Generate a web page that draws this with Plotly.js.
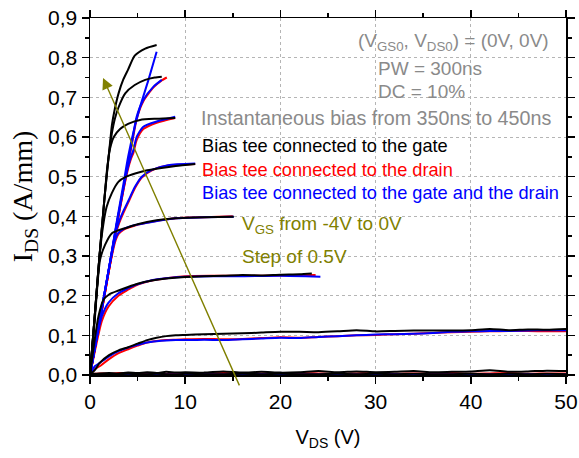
<!DOCTYPE html>
<html>
<head>
<meta charset="utf-8">
<script src="https://cdn.plot.ly/plotly-3.0.1.min.js"></script>
<style>html,body{margin:0;padding:0;background:#fff;}#chart{width:579px;height:458px;}</style>
</head>
<body>
<div id="chart"></div>
<script>
// ---------- DATA ----------
// Shared VDS grid for the long (low-current) sweeps
const vdsLong = [0,0.5,1,2,3,4,5,6,7,8,9,10,12,14,16,18,20,22,24,26,28,30,32,34,36,38,40,42,44,46,48,50];

// Bias tee connected to the gate (black)
const gateV_0    = [0,0.5,1,1.5,2,2.3,2.6,3,3.5,4,4.7,5.8,7];
const gateI_0    = [0,0.15,0.3,0.44,0.56,0.63,0.67,0.71,0.745,0.77,0.805,0.823,0.832];
const gateV_m05  = [0,0.5,1,1.5,2,2.3,2.6,3,3.7,4.7,5.8,6.8,7.54];
const gateI_m05  = [0,0.15,0.3,0.44,0.56,0.61,0.645,0.675,0.71,0.731,0.744,0.75,0.752];
const gateV_m10  = [0,0.5,1,1.5,1.8,2.1,2.5,3.16,4,5.26,7,8.95];
const gateI_m10  = [0,0.15,0.3,0.44,0.52,0.57,0.6,0.62,0.633,0.643,0.646,0.648];
const gateV_m15  = [0,0.5,1,1.4,1.75,2.28,2.98,3.8,4.74,6,7.5,9,11.05];
const gateI_m15  = [0,0.15,0.3,0.38,0.424,0.458,0.487,0.5,0.508,0.516,0.522,0.527,0.532];
const gateV_m20  = [0,0.5,1.05,1.58,2.28,3,3.68,5,7,9,12,15.1];
const gateI_m20  = [0,0.14,0.29,0.328,0.357,0.365,0.37,0.38,0.39,0.395,0.398,0.399];
const gateV_m25  = [0,0.5,0.88,1.4,2,3,4,5,6.5,8,10,12,14,16,18,20,22,23.3];
const gateI_m25  = [0,0.09,0.147,0.189,0.203,0.213,0.222,0.23,0.238,0.243,0.247,0.249,0.25,0.252,0.251,0.253,0.254,0.256];
const gateI_m30  = [0,0.012,0.03,0.05,0.062,0.07,0.079,0.088,0.094,0.098,0.1,0.101,0.103,0.104,0.105,0.107,0.109,0.109,0.108,0.11,0.113,0.11,0.111,0.112,0.112,0.112,0.113,0.116,0.113,0.115,0.114,0.116];
const gateI_m35  = [0,0.003,0.004,0.005,0.004,0.006,0.005,0.007,0.005,0.008,0.006,0.007,0.006,0.009,0.006,0.008,0.006,0.007,0.01,0.007,0.009,0.007,0.008,0.01,0.007,0.008,0.009,0.012,0.008,0.009,0.011,0.01];
const gateI_m40  = [0,0.001,0.002,0.001,0.002,0.003,0.002,0.002,0.003,0.002,0.001,0.003,0.002,0.002,0.003,0.002,0.003,0.002,0.002,0.003,0.002,0.003,0.002,0.003,0.002,0.002,0.003,0.002,0.003,0.002,0.003,0.002];

// Bias tee connected to the drain (red)
const drainV_m05 = [0,1,2,2.8,3.5,4,4.5,4.9,5.6,6.67,7.5,8.07];
const drainI_m05 = [0,0.13,0.265,0.375,0.465,0.53,0.595,0.645,0.69,0.725,0.742,0.75];
const drainV_m10 = [0,1,2,2.8,3.5,4,4.3,4.56,4.9,5.6,7,8.95];
const drainI_m10 = [0,0.13,0.265,0.375,0.465,0.52,0.545,0.56,0.592,0.62,0.636,0.648];
const drainV_m15 = [0,1,2,2.7,3.1,3.5,4.04,4.74,5.44,6.5,8.2,11.05];
const drainI_m15 = [0,0.13,0.265,0.355,0.385,0.408,0.436,0.472,0.498,0.516,0.528,0.532];
const drainV_m20 = [0,1,2,2.63,2.98,3.5,4.74,6.5,9,12,15];
const drainI_m20 = [0,0.13,0.265,0.335,0.355,0.366,0.377,0.386,0.395,0.398,0.4];
const drainV_m25 = [0,0.6,1.23,1.93,2.98,4,4.74,6.5,8,10,13,16,20,23.7];
const drainI_m25 = [0,0.07,0.135,0.172,0.2,0.215,0.225,0.238,0.244,0.249,0.25,0.25,0.251,0.252];
const drainI_m30 = [0,0.015,0.022,0.04,0.055,0.065,0.074,0.082,0.086,0.088,0.089,0.09,0.091,0.09,0.091,0.093,0.095,0.094,0.096,0.098,0.1,0.101,0.103,0.104,0.106,0.108,0.109,0.11,0.111,0.111,0.11,0.11];
const drainI_m35 = [0,0.003,0.004,0.003,0.005,0.004,0.003,0.005,0.004,0.003,0.005,0.004,0.003,0.005,0.004,0.004,0.003,0.005,0.004,0.003,0.004,0.005,0.003,0.004,0.004,0.005,0.003,0.004,0.005,0.003,0.004,0.004];
const drainI_m40 = [0,0.001,0.001,0.001,0.002,0.001,0.001,0.002,0.001,0.001,0.001,0.002,0.001,0.001,0.002,0.001,0.001,0.001,0.002,0.001,0.001,0.002,0.001,0.001,0.001,0.002,0.001,0.001,0.002,0.001,0.001,0.001];

// Bias tee connected to the gate and the drain (blue)
const bothV_0    = [0,1,2,2.8,3.5,4,4.74,5.26,6.14,7];
const bothI_0    = [0,0.135,0.27,0.385,0.48,0.55,0.63,0.676,0.744,0.815];
const bothV_m05  = [0,1,2,2.8,3.5,4,4.5,4.9,5.6,6.67,7.54];
const bothI_m05  = [0,0.135,0.27,0.38,0.47,0.535,0.6,0.651,0.693,0.727,0.744];
const bothV_m10  = [0,1,2,2.8,3.5,4,4.3,4.56,4.9,5.6,7,8.95];
const bothI_m10  = [0,0.135,0.27,0.38,0.47,0.525,0.55,0.567,0.6,0.626,0.639,0.651];
const bothV_m15  = [0,1,2,2.7,3.1,3.5,4.04,4.74,5.44,6.5,8.2,11.05];
const bothI_m15  = [0,0.135,0.27,0.36,0.39,0.413,0.44,0.475,0.5,0.517,0.529,0.533];
const bothV_m20  = [0,1,2,2.63,2.98,3.5,4.74,6.5,9,12,15.1];
const bothI_m20  = [0,0.135,0.27,0.34,0.358,0.368,0.378,0.386,0.395,0.398,0.399];
const bothV_m25  = [0,0.6,1.23,1.93,2.98,4,4.74,6.5,8,10,13,16,20,24.2];
const bothI_m25  = [0,0.08,0.147,0.182,0.206,0.219,0.227,0.239,0.244,0.248,0.249,0.249,0.25,0.248];
const bothI_m30  = [0,0.022,0.03,0.047,0.06,0.069,0.076,0.082,0.085,0.087,0.088,0.088,0.089,0.088,0.09,0.092,0.094,0.093,0.096,0.098,0.1,0.102,0.103,0.104,0.106,0.109,0.11,0.111,0.111,0.112,0.113,0.113];
const bothI_m35  = [0,0.001,0.002,0.001,0.001,0.002,0.001,0.001,0.002,0.001,0.001,0.001,0.002,0.001,0.001,0.002,0.001,0.001,0.001,0.002,0.001,0.001,0.002,0.001,0.001,0.001,0.002,0.001,0.001,0.002,0.001,0.001];
const bothI_m40  = [0,0,0,0,0,0,0,0,0,0,0,0,0,0,0,0,0,0,0,0,0,0,0,0,0,0,0,0,0,0,0,0];

// Arrow (VGS increasing direction), in data units
const arrowHead = [1.37, 0.749];
const arrowTail = [15.76, -0.030];

// ---------- TRACES ----------
const RED = '#ff0000', BLUE = '#0000ff', BLACK = '#000000';
function tr(x, y, color) {
  return {x: x, y: y, type: 'scatter', mode: 'lines', showlegend: false,
          hoverinfo: 'skip', line: {color: color, width: 2, shape: 'spline', smoothing: 0.6}};
}
const traces = [
  // drain (red)
  tr(vdsLong, drainI_m40, RED), tr(vdsLong, drainI_m35, RED), tr(vdsLong, drainI_m30, RED),
  tr(drainV_m25, drainI_m25, RED), tr(drainV_m20, drainI_m20, RED), tr(drainV_m15, drainI_m15, RED),
  tr(drainV_m10, drainI_m10, RED), tr(drainV_m05, drainI_m05, RED),
  // gate and drain (blue)
  tr(vdsLong, bothI_m40, BLUE), tr(vdsLong, bothI_m35, BLUE), tr(vdsLong, bothI_m30, BLUE),
  tr(bothV_m25, bothI_m25, BLUE), tr(bothV_m20, bothI_m20, BLUE), tr(bothV_m15, bothI_m15, BLUE),
  tr(bothV_m10, bothI_m10, BLUE), tr(bothV_m05, bothI_m05, BLUE), tr(bothV_0, bothI_0, BLUE),
  // gate (black)
  tr(vdsLong, gateI_m40, BLACK), tr(vdsLong, gateI_m35, BLACK), tr(vdsLong, gateI_m30, BLACK),
  tr(gateV_m25, gateI_m25, BLACK), tr(gateV_m20, gateI_m20, BLACK), tr(gateV_m15, gateI_m15, BLACK),
  tr(gateV_m10, gateI_m10, BLACK), tr(gateV_m05, gateI_m05, BLACK), tr(gateV_0, gateI_0, BLACK)
];

// ---------- LAYOUT ----------
const GRAY = '#8a8a8a', OLIVE = '#808000';
const txtFont = (c, s) => ({family: 'Liberation Sans, Arial, sans-serif', size: s, color: c});
function note(text, x, y, color, size, xanchor) {
  return {text: text, xref: 'paper', yref: 'paper', x: x, y: y, xanchor: xanchor || 'left',
          yanchor: 'middle', showarrow: false, font: txtFont(color, size)};
}
const axisCommon = {
  showline: true, linecolor: '#000', linewidth: 1.5, mirror: 'allticks',
  ticks: 'outside', ticklen: 7, tickwidth: 1.5, tickcolor: '#000',
  showgrid: true, gridcolor: '#b5b5b5', griddash: 'dot', gridwidth: 1,
  zeroline: false, automargin: false,
  tickfont: {family: 'Liberation Sans, Arial, sans-serif', size: 21, color: '#000'}
};
const layout = {
  width: 579, height: 458,
  margin: {l: 90, r: 13, t: 18, b: 83},
  paper_bgcolor: '#fff', plot_bgcolor: '#fff',
  separators: ',.',
  showlegend: false,
  xaxis: Object.assign({}, axisCommon, {
    range: [0, 50], dtick: 10, tick0: 0,
    minor: {dtick: 5, ticklen: 4, tickwidth: 1.5, tickcolor: '#000', ticks: 'outside', showgrid: false},
    title: {text: 'V<sub>DS</sub> (V)', standoff: 18,
            font: {family: 'Liberation Sans, Arial, sans-serif', size: 20, color: '#000'}}
  }),
  yaxis: Object.assign({}, axisCommon, {
    range: [0, 0.9], dtick: 0.1, tick0: 0, tickformat: '.1f',
    minor: {dtick: 0.05, ticklen: 4, tickwidth: 1.5, tickcolor: '#000', ticks: 'outside', showgrid: false},
    title: {text: 'I<sub>DS</sub> (A/mm)', standoff: 7,
            font: {family: 'Liberation Serif, Times New Roman, serif', size: 28, color: '#000'}}
  }),
  annotations: [
    note('(V<sub>GS0</sub>, V<sub>DS0</sub>) = (0V, 0V)', 0.968, 0.932, GRAY, 19, 'right'),
    note('PW = 300ns', 0.600, 0.859, GRAY, 19),
    note('DC = 10%', 0.600, 0.794, GRAY, 19),
    note('Instantaneous bias from 350ns to 450ns', 0.973, 0.720, GRAY, 19.7, 'right'),
    note('Bias tee connected to the gate', 0.232, 0.641, BLACK, 18.2),
    note('Bias tee connected to the drain', 0.232, 0.574, RED, 18.2),
    note('Bias tee connected to the gate and the drain', 0.232, 0.510, BLUE, 18.2),
    note('V<sub>GS</sub> from -4V to 0V', 0.316, 0.420, OLIVE, 19),
    note('Step of 0.5V', 0.316, 0.331, OLIVE, 19),
    {text: '', xref: 'x', yref: 'y', axref: 'x', ayref: 'y',
     x: arrowHead[0], y: arrowHead[1], ax: arrowTail[0], ay: arrowTail[1],
     showarrow: true, arrowhead: 2, arrowsize: 1.6, arrowwidth: 1.4, arrowcolor: OLIVE, standoff: 0}
  ]
};

Plotly.newPlot('chart', traces, layout, {staticPlot: true, displayModeBar: false});
</script>
</body>
</html>
